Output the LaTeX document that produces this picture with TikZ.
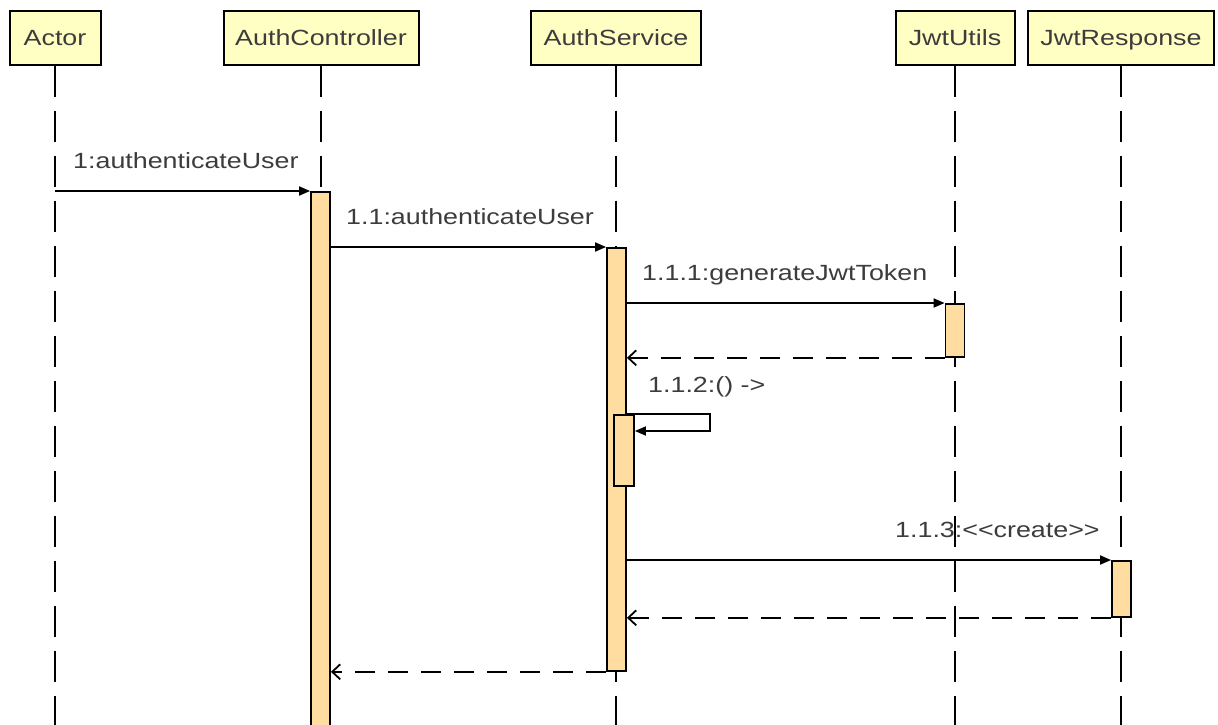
\documentclass[tikz,border=0pt]{standalone}
\usepackage{fontspec}
\setmainfont{Liberation Sans}[FakeStretch=1.22]
\usetikzlibrary{arrows.meta}
\definecolor{headfill}{RGB}{255,255,196}
\definecolor{actfill}{RGB}{255,221,160}
\definecolor{txt}{RGB}{60,60,60}
\newcommand\dfont{\fontsize{22}{26}\selectfont}
\begin{document}
\begin{tikzpicture}[x=1pt,y=-1pt,
  head/.style={draw=black, line width=2pt, fill=headfill, minimum height=54pt,
    inner sep=0pt, text height=15.7pt, text depth=0pt, font=\dfont, text=txt},
  lifeline/.style={draw=black, line width=1.8pt, dash pattern=on 31pt off 14pt},
  act/.style={draw=black, line width=1.8pt, fill=actfill, minimum width=19pt, inner sep=0pt, anchor=north},
  msg/.style={draw=black, line width=1.8pt, -{Triangle[length=11pt,width=9pt]}},
  ret/.style={draw=black, line width=1.8pt, dash pattern=on 20pt off 13pt, -{Straight Barb[length=8pt,width=15pt]}},
  lbl/.style={anchor=base west, inner sep=0pt, font=\dfont, text=txt}]
\useasboundingbox (0,0) rectangle (1218,724);
\clip (0,0) rectangle (1218,724);
% heads
\node[head, minimum width=91pt]  (hA) at (55,37.5) {Actor};
\node[head, minimum width=195pt] (hC) at (321,37.5) {AuthController};
\node[head, minimum width=170pt] (hS) at (616,37.5) {AuthService};
\node[head, minimum width=119pt] (hJ) at (955,37.5) {JwtUtils};
\node[head, minimum width=186pt] (hR) at (1121,37.5) {JwtResponse};
% lifeline ends
\coordinate (eA) at (55,730);
\coordinate (eC) at (321,730);
\coordinate (eS) at (616,730);
\coordinate (eJ) at (955,730);
\coordinate (eR) at (1121,730);
\draw[lifeline] (hA.south) -- (eA);
\draw[lifeline] (hC.south) -- (eC);
\draw[lifeline] (hS.south) -- (eS);
\draw[lifeline] (hJ.south) -- (eJ);
\draw[lifeline] (hR.south) -- (eR);
% activations
\node[act, minimum height=545pt] (actC) at (320.5,191) {};
\node[act, minimum height=423pt] (actS) at (616.5,247) {};
\node[act, minimum height=53pt] (actJ) at (955,303) {};
\node[act, minimum width=20pt, minimum height=71pt] (actS2) at (624,414) {};
\node[act, minimum height=56pt] (actR) at (1121.5,560) {};
% messages
\draw[msg] (hA.south |- actC.north) -- (actC.north west);
\draw[msg] (actC.east |- actS.north) -- (actS.north west);
\draw[msg] (actS.east |- actJ.north) -- (actJ.north west);
\draw[ret] (actJ.south west) -- (actS.east |- actJ.south);
\draw[msg] (actS.east |- actS2.north) -- ++(83,0) -- ++(0,17) -- ([yshift=-17pt]actS2.north east);
\draw[msg] (actS.east |- actR.north) -- (actR.north west);
\draw[ret] (actR.south west) -- (actS.east |- actR.south);
\draw[ret] (actS.south west) -- (actC.east |- actS.south);
% labels
\node[lbl] (l1) at (73,168) {1:authenticateUser};
\node[lbl] (l2) at (346,224) {1.1:authenticateUser};
\node[lbl] (l3) at (642,280) {1.1.1:generateJwtToken};
\node[lbl] (l4) at (648,392) {1.1.2:() -{}>};
\node[lbl] (l5) at (895,537) {1.1.3:{<}{<}create{>}{>}};
\end{tikzpicture}
\end{document}
